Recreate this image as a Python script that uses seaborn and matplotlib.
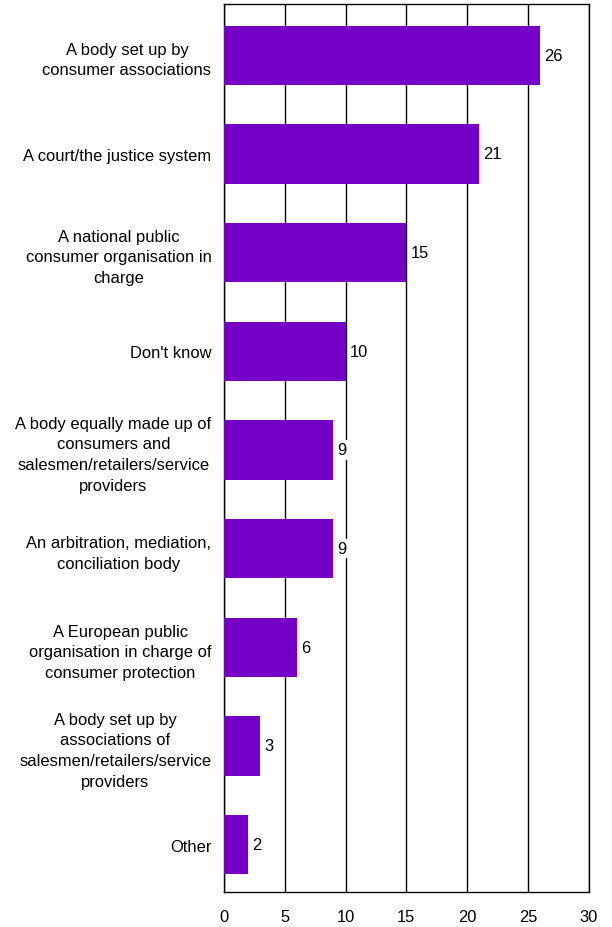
import matplotlib
matplotlib.use("Agg")
import matplotlib.pyplot as plt
import seaborn as sns
import pandas as pd

categories = [
    "A body set up by\nconsumer associations",
    "A court/the justice system",
    "A national public\nconsumer organisation in\ncharge",
    "Don't know",
    "A body equally made up of\nconsumers and\nsalesmen/retailers/service\nproviders",
    "An arbitration, mediation,\nconciliation body",
    "A European public\norganisation in charge of\nconsumer protection",
    "A body set up by\nassociations of\nsalesmen/retailers/service\nproviders",
    "Other",
]
values = [26, 21, 15, 10, 9, 9, 6, 3, 2]
xticks = [0, 5, 10, 15, 20, 25, 30]

df = pd.DataFrame({"cat": categories, "val": values})

sns.set_theme(style="white")
plt.rcParams["font.family"] = ["Liberation Sans", "DejaVu Sans"]

fig = plt.figure(figsize=(6.12, 9.28), dpi=100)
ax = fig.add_axes([0.366, 0.0377, 0.596, 0.9569])

sns.barplot(data=df, y="cat", x="val", orient="h", color="#7300c4",
            saturation=1, width=0.6, linewidth=0, ax=ax, zorder=3)

ax.set_xlim(0, 30)
ax.set_ylim(8.48, -0.52)
ax.set_xticks(xticks)
ax.set_xticklabels([str(t) for t in xticks])
ax.xaxis.grid(True, color="black", linewidth=1.0, zorder=0)
ax.set_axisbelow(True)
ax.set_xlabel("")
ax.set_ylabel("")
for s in ax.spines.values():
    s.set_visible(True)
    s.set_color("black")
    s.set_linewidth(1.0)

ax.tick_params(axis="both", length=0, labelsize=11.9, colors="black")
ax.tick_params(axis="y", pad=9)
ax.tick_params(axis="x", pad=12)
for lbl in ax.get_yticklabels():
    lbl.set_multialignment("center")
    lbl.set_linespacing(1.47)

for c in ax.containers:
    ax.bar_label(c, labels=[str(v) for v in values], padding=3, fontsize=11.9,
                 color="black",
                 bbox=dict(facecolor="white", edgecolor="none", pad=1.5))

fig.savefig("out.png", dpi=100)
